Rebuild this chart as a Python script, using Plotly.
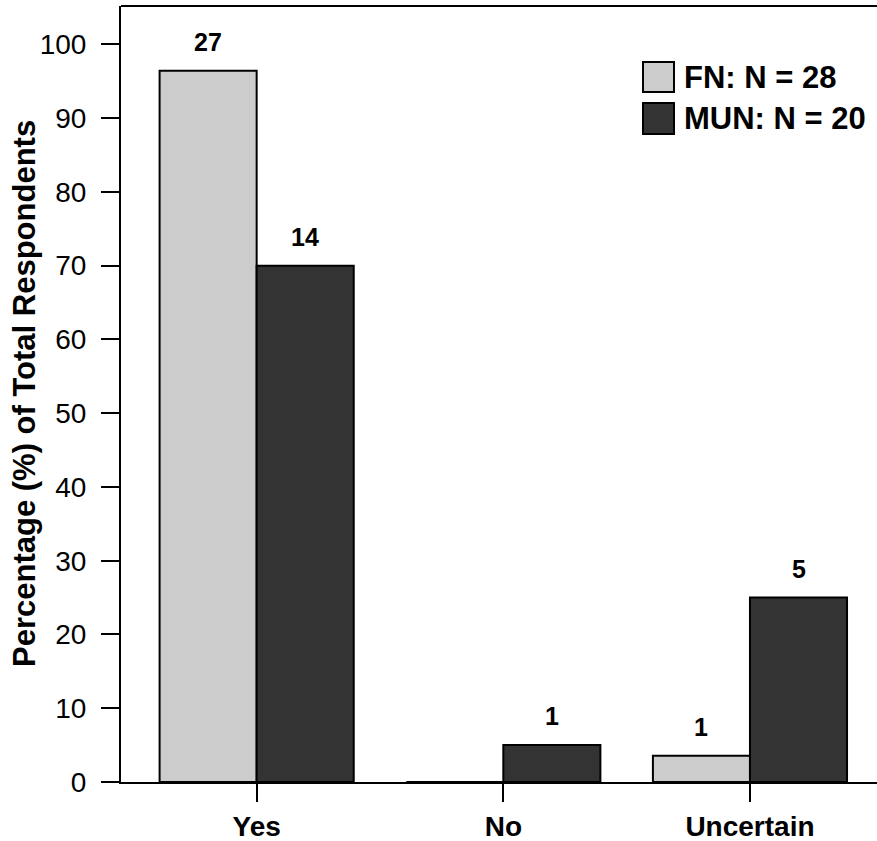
import plotly.graph_objects as go

categories = ["Yes", "No", "Uncertain"]
fn_pct = [96.43, 0.0, 3.57]
mun_pct = [70.0, 5.0, 25.0]
fn_counts = [27, 0, 1]
mun_counts = [14, 1, 5]
series_names = ["FN: N = 28", "MUN: N = 20"]
y_ticks = [0, 10, 20, 30, 40, 50, 60, 70, 80, 90, 100]

FONT = "Liberation Sans, Arial, sans-serif"
FN_COLOR = "#cccccc"
MUN_COLOR = "#333333"
BAR_W = 0.3935

W, H = 877, 841
ML, MR, MT, MB = 121, 0, 6, 59
PW = W - ML - MR
PH = H - MT - MB

fig = go.Figure()
fig.add_trace(go.Bar(x=categories, y=fn_pct, name=series_names[0],
                     marker=dict(color=FN_COLOR, line=dict(color="black", width=2)),
                     showlegend=False))
fig.add_trace(go.Bar(x=categories, y=mun_pct, name=series_names[1],
                     marker=dict(color=MUN_COLOR, line=dict(color="black", width=2)),
                     showlegend=False))

annotations = []
for i, (v, c) in enumerate(zip(fn_pct, fn_counts)):
    if c > 0:
        annotations.append(dict(x=i - BAR_W / 2, y=v, xref="x", yref="y", text=f"<b>{c}</b>",
                                showarrow=False, yanchor="middle", yshift=29,
                                font=dict(family=FONT, size=25, color="black")))
for i, (v, c) in enumerate(zip(mun_pct, mun_counts)):
    if c > 0:
        annotations.append(dict(x=i + BAR_W / 2, y=v, xref="x", yref="y", text=f"<b>{c}</b>",
                                showarrow=False, yanchor="middle", yshift=29,
                                font=dict(family=FONT, size=25, color="black")))

# y-axis title
annotations.append(dict(x=(24 - ML) / PW, y=0.5, xref="paper", yref="paper",
                        text="<b>Percentage (%) of Total Respondents</b>", textangle=-90,
                        showarrow=False, xanchor="center", yanchor="middle",
                        font=dict(family=FONT, size=31, color="black")))

# manual legend
def px_x(px):
    return (px - ML) / PW

def px_y(py):
    return (H - MB - py) / PH

shapes = []
legend_rows = [(series_names[0], FN_COLOR, 62, 92), (series_names[1], MUN_COLOR, 103, 134)]
for name, col, y0, y1 in legend_rows:
    shapes.append(dict(type="rect", xref="paper", yref="paper",
                       x0=px_x(643), x1=px_x(674), y0=px_y(y1), y1=px_y(y0),
                       fillcolor=col, line=dict(color="black", width=2)))
    annotations.append(dict(x=px_x(682), y=px_y((y0 + y1) / 2), xref="paper", yref="paper",
                            text=f"<b>{name}</b>", showarrow=False, xanchor="left", yanchor="middle",
                            font=dict(family=FONT, size=31, color="black")))

# top border
shapes.append(dict(type="line", xref="paper", yref="paper", x0=0, x1=1, y0=1, y1=1,
                   line=dict(color="black", width=2)))

fig.update_layout(
    width=W, height=H,
    margin=dict(l=ML, r=MR, t=MT, b=MB, pad=0),
    paper_bgcolor="white", plot_bgcolor="white",
    barmode="group", bargap=0.213, bargroupgap=0,
    annotations=annotations, shapes=shapes,
    font=dict(family=FONT, color="black"),
    xaxis=dict(type="category", range=[-0.55, 2.515], showgrid=False, zeroline=False,
               showline=True, linecolor="black", linewidth=2,
               ticks="outside", ticklen=18, tickwidth=2, tickcolor="black",
               tickfont=dict(family=FONT, size=28, color="black"),
               tickvals=categories, ticktext=[f"<b>{c}</b>" for c in categories]),
    yaxis=dict(range=[0, 105.2], showgrid=False, zeroline=False,
               showline=True, linecolor="black", linewidth=2,
               ticks="outside", ticklen=18, tickwidth=2, tickcolor="black",
               ticklabelstandoff=9,
               tickvals=y_ticks, ticktext=[str(t) for t in y_ticks],
               tickfont=dict(family=FONT, size=28, color="black")),
)

fig.write_html("out.html", config={"displayModeBar": False},
               post_script="document.body.style.margin='0';document.body.style.overflow='hidden';")
